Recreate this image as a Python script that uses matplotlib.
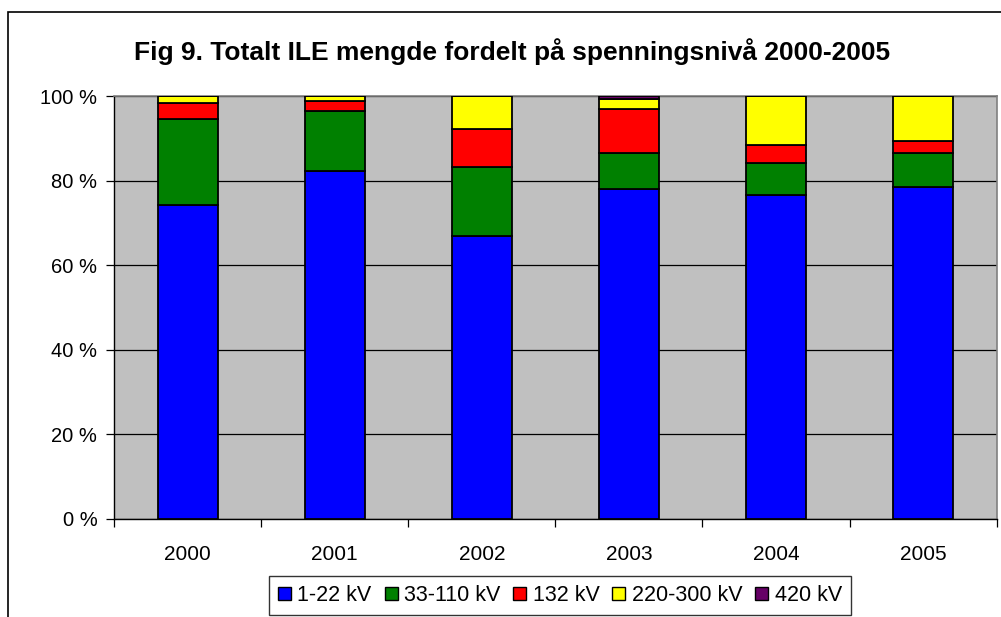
import matplotlib.pyplot as plt
import numpy as np
from matplotlib.patches import Patch, Rectangle
from matplotlib.ticker import FuncFormatter

plt.rcParams["font.family"] = ["Liberation Sans", "DejaVu Sans"]

years = ["2000", "2001", "2002", "2003", "2004", "2005"]
series_names = ["1-22 kV", "33-110 kV", "132 kV", "220-300 kV", "420 kV"]
colors = ["#0000FF", "#008000", "#FF0000", "#FFFF00", "#660066"]

# shares in percent
kv_1_22 = [74.3, 82.4, 66.9, 78.2, 76.7, 78.6]
kv_33_110 = [20.4, 14.2, 16.5, 8.5, 7.6, 8.1]
kv_132 = [3.8, 2.4, 9.0, 10.4, 4.3, 2.8]
kv_220_300 = [1.5, 1.0, 7.6, 2.3, 11.4, 10.5]
kv_420 = [0.0, 0.0, 0.0, 0.6, 0.0, 0.0]

values = [kv_1_22, kv_33_110, kv_132, kv_220_300, kv_420]

fig = plt.figure(figsize=(10.01, 6.17), dpi=100)
ax = fig.add_axes([0.1139, 0.1596, 0.9957 - 0.1139, 0.8436 - 0.1596])
ax.set_facecolor("#C0C0C0")

x = np.arange(len(years))
bottom = np.zeros(len(years))
for name, vals, col in zip(series_names, values, colors):
    vals = np.array(vals)
    ax.bar(x, vals, bottom=bottom, width=0.408, color=col,
           edgecolor="black", linewidth=1.3, zorder=3)
    bottom += vals

ax.set_xlim(-0.5, len(years) - 0.5)
ax.set_ylim(0, 100)
ax.set_yticks([0, 20, 40, 60, 80, 100])
ax.yaxis.set_major_formatter(FuncFormatter(lambda v, p: f"{int(v)} %"))
ax.grid(axis="y", color="black", linewidth=0.9, zorder=1)

ax.set_xticks(x)
ax.set_xticklabels(years, fontsize=15)
ax.set_xticks(np.arange(-0.5, len(years)), minor=True)
ax.tick_params(axis="x", which="major", length=0, pad=19)
ax.tick_params(axis="x", which="minor", length=6, width=0.9, direction="out")
ax.tick_params(axis="y", length=6, width=0.9, direction="out", pad=6, labelsize=14.5)

for side in ["left", "bottom"]:
    ax.spines[side].set_color("black")
    ax.spines[side].set_linewidth(1.0)
for side in ["top", "right"]:
    ax.spines[side].set_color("#808080")
    ax.spines[side].set_linewidth(1.2)

fig.text(0.512, 1 - 52 / 617, "Fig 9. Totalt ILE mengde fordelt på spenningsnivå 2000-2005",
         ha="center", va="center", fontsize=19, fontweight="bold")

handles = [Patch(facecolor=c, edgecolor="black", linewidth=1.0) for c in colors]
leg = fig.legend(handles, series_names, loc="center", ncol=5,
                 bbox_to_anchor=(560 / 1001, 1 - 595.5 / 617),
                 fontsize=15.5, frameon=True, fancybox=False, edgecolor="black",
                 handlelength=0.6, handleheight=0.6, handletextpad=0.3,
                 columnspacing=0.6, borderpad=0.4)
leg.get_frame().set_linewidth(1.0)

# outer chart frame (only left and top edges visible)
fig.patches.append(Rectangle((8 / 1001, -0.1), 1.2, 1 - 12 / 617 + 0.1,
                             transform=fig.transFigure, fill=False,
                             edgecolor="black", linewidth=1.2))

fig.savefig("out.png", dpi=100)
